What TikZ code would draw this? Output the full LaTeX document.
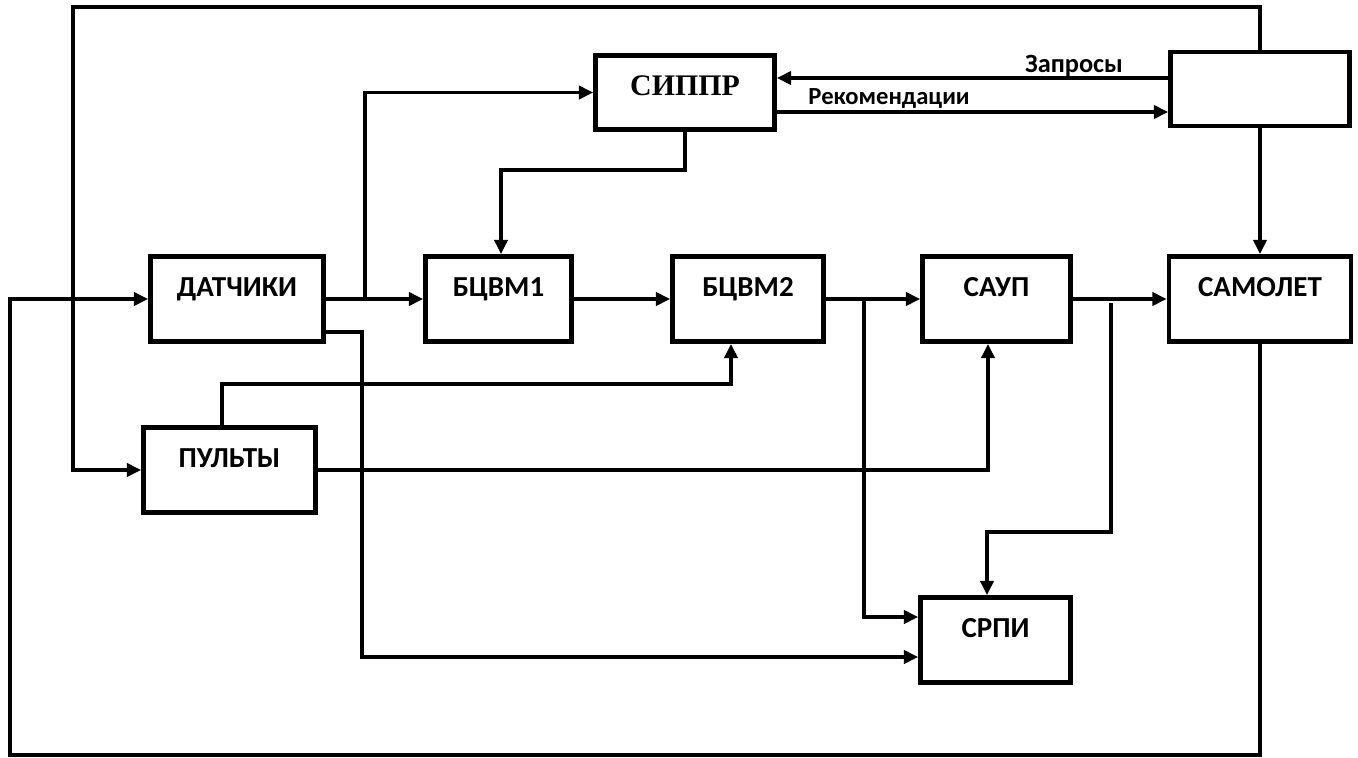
\documentclass[tikz,border=0pt]{standalone}
\usepackage{fontspec}
\setmainfont{Carlito}
\newfontfamily\serifbold{Liberation Serif}
\usetikzlibrary{arrows.meta}

\begin{document}
\begin{tikzpicture}[
  x=0.2mm, y=-0.2mm,
  blk/.style={draw, line width=2.8pt, inner sep=0pt, minimum width=#1,
              text height=22.8pt, text depth=25.6pt,
              font=\fontsize{16.5}{18}\selectfont\bfseries},
  topblk/.style={blk=#1, text height=22.5pt, text depth=19.6pt},
  conn/.style={line width=1.8pt, -{Triangle[length=8pt, width=7.5pt]}},
  lbl/.style={font=\fontsize{14}{16}\selectfont\bfseries, inner sep=0pt,
              anchor=base},
]
  \useasboundingbox (0,0) rectangle (1358,757);

  % Upper blocks
  \node[topblk=35.8mm, font=\serifbold\fontsize{17}{19}\selectfont\bfseries]
    (sippr) at (685,92.5) {СИППР};
  \node[topblk=35.8mm] (zapr) at (1260,89) {};

  % Main row
  \node[blk=34.6mm] (dat)  at (237,299)   {ДАТЧИКИ};
  \node[blk=29.2mm] (b1)   at (498.5,299) {БЦВМ1};
  \node[blk=30.2mm] (b2)   at (748,299)   {БЦВМ2};
  \node[blk=29.6mm] (saup) at (996.5,299) {САУП};
  \node[blk=36.4mm] (sam)  at (1260,299)  {САМОЛЕТ};

  % Lower blocks
  \node[blk=34.4mm] (pult) at (229.5,470) {ПУЛЬТЫ};
  \node[blk=30mm]   (srpi) at (995.5,640) {СРПИ};

  % Labels of the exchange
  \node[lbl, font=\fontsize{15}{17}\selectfont\bfseries]
    (zaprtxt) at (1074,72) {Запросы};
  \node[lbl] (rektxt)  at (889,104) {Рекомендации};

  % Helper points
  \coordinate (jd) at (365,299);
  \coordinate (c1) at (501,170);
  \coordinate (rq) at (0,78);
  \coordinate (rr) at (0,112);
  \coordinate (tl) at (73,7);
  \coordinate (fl) at (10,755);
  \coordinate (d1) at (362,332);
  \coordinate (d2) at (362,657);
  \coordinate (p1) at (222,384);
  \coordinate (p2) at (731,384);
  \coordinate (p3) at (988,470);
  \coordinate (jb) at (864,299);
  \coordinate (s1) at (864,617);
  \coordinate (js) at (1111,303);
  \coordinate (c7) at (987,532);

  % Main chain
  \draw[conn] (dat) -- (b1);
  \draw[conn] (b1) -- (b2);
  \draw[conn] (b2) -- (saup);
  \draw[conn] (saup) -- (sam);

  % СИППР links
  \draw[conn] (jd) |- (sippr.west);
  \draw[conn] (sippr.south) |- (c1) -- (c1 |- b1.north);
  \draw[conn] (zapr.west |- rq) -- (sippr.east |- rq);
  \draw[conn] (sippr.east |- rr) -- (zapr.west |- rr);
  \draw[conn] (zapr) -- (sam);

  % Outer loops
  \draw[conn] (zapr.north) |- (tl) |- (pult.west);
  \draw[conn] (sam.south) |- (fl) |- (dat.west);

  % ДАТЧИКИ -> СРПИ
  \draw[conn] (dat.east |- d1) -- (d1) -- (d2) -- (srpi.west |- d2);

  % ПУЛЬТЫ outputs
  \draw[conn] (p1 |- pult.north) -- (p1) -- (p2) -- (p2 |- b2.south);
  \draw[conn] (pult.east) -- (p3) -- (p3 |- saup.south);

  % Branches to СРПИ
  \draw[conn] (jb) -- (s1) -- (srpi.west |- s1);
  \draw[conn] (js) |- (c7) -- (c7 |- srpi.north);

\end{tikzpicture}
\end{document}
